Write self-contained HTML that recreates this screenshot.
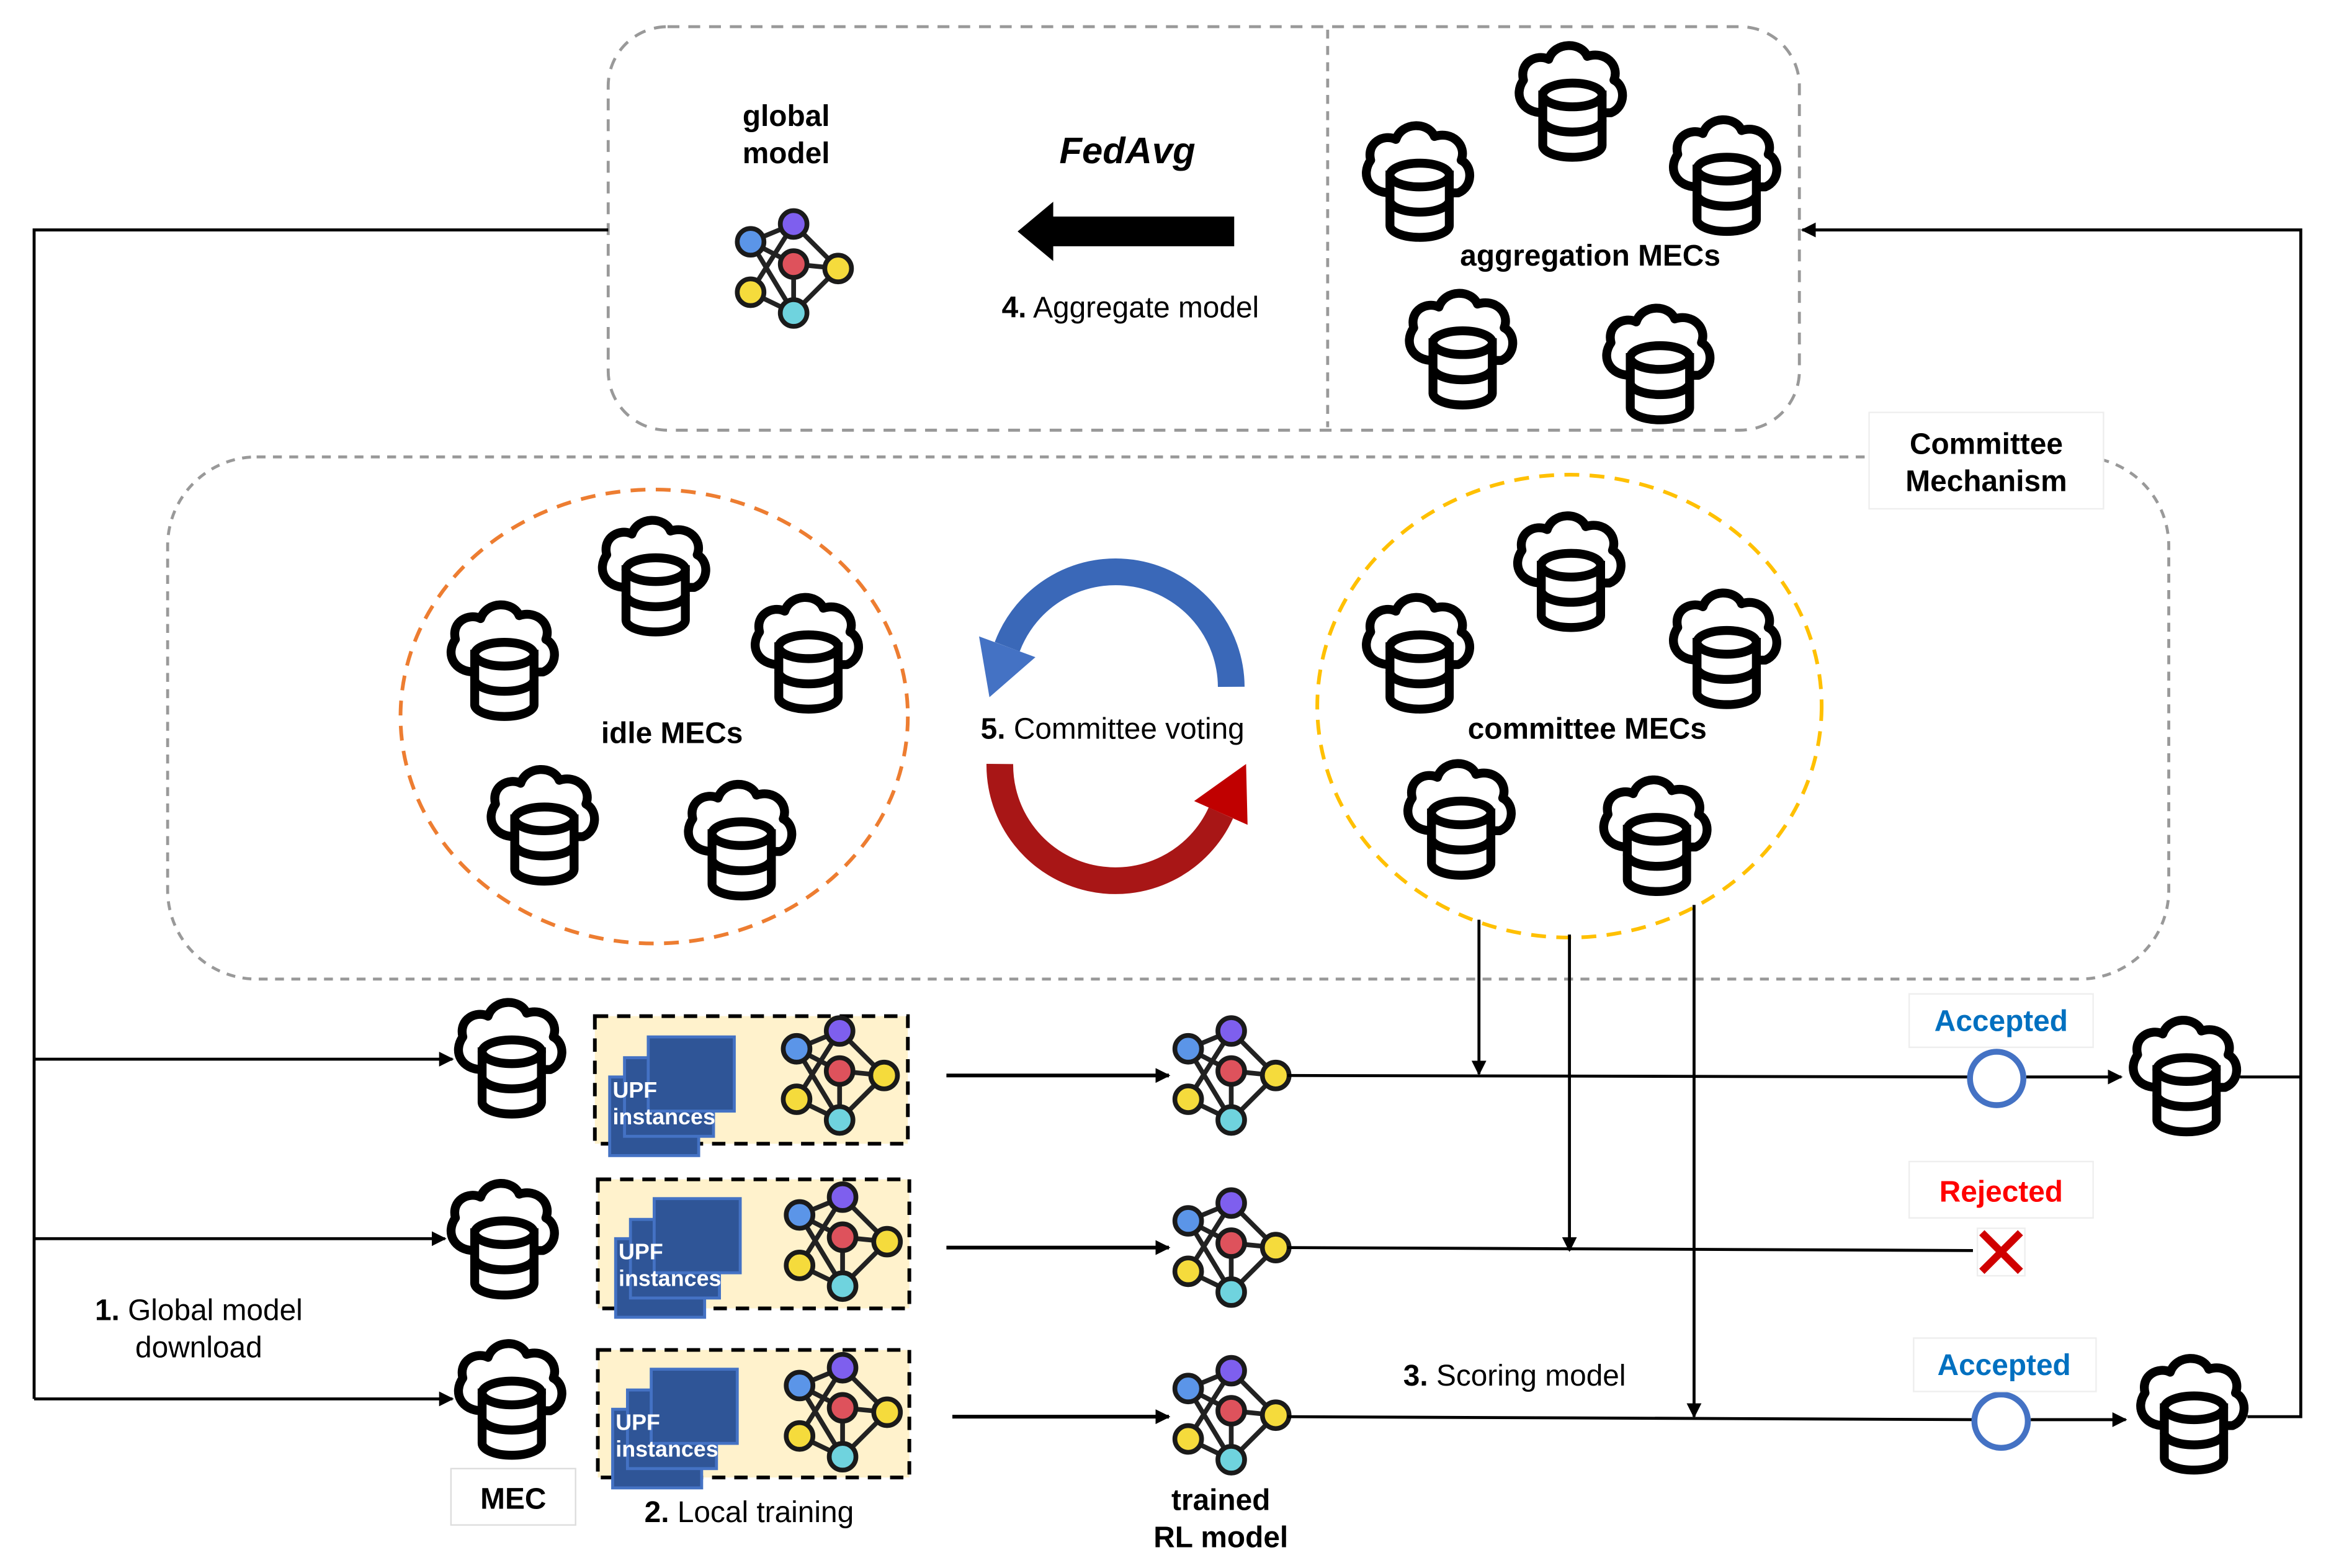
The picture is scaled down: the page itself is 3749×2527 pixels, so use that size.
<!DOCTYPE html>
<html><head><meta charset="utf-8">
<style>
html,body{margin:0;padding:0;background:#fff;}
svg{display:block;}
text{font-family:"Liberation Sans","Noto Sans CJK KR",sans-serif;}
</style></head>
<body>
<svg width="3749" height="2527" viewBox="0 0 1568 1057" preserveAspectRatio="none" xmlns="http://www.w3.org/2000/svg">
<defs>
<marker id="ar" markerWidth="10" markerHeight="10" refX="9" refY="5" orient="auto" markerUnits="userSpaceOnUse">
<path d="M0,0 L10,5 L0,10 Z" fill="#000"/>
</marker>
<g id="cloud">
<path d="M -18 8 C -32 8 -38 -4 -31 -14 C -34 -26 -22 -32 -14 -28 C -10 -40 8 -40 12 -30 C 24 -34 34 -24 30 -14 C 38 -10 38 4 28 8 Z" fill="#fff" stroke="#000" stroke-width="6" stroke-linejoin="round"/>
<path d="M -18 -4 L -18 30 A 20 8 0 0 0 22 30 L 22 -4 Z" fill="#fff" stroke="#000" stroke-width="6"/>
<path d="M -18 13 A 20 8 0 0 0 22 13" fill="none" stroke="#000" stroke-width="6"/>
<ellipse cx="2" cy="-4" rx="20" ry="8" fill="#fff" stroke="#000" stroke-width="6"/>
</g>
<g id="net">
<g stroke="#222" stroke-width="3.2">
<line x1="-29" y1="-15" x2="0" y2="-27"/>
<line x1="-29" y1="-15" x2="0" y2="0"/>
<line x1="-29" y1="-15" x2="0" y2="33"/>
<line x1="0" y1="-27" x2="-29" y2="19"/>
<line x1="0" y1="-27" x2="30" y2="3"/>
<line x1="0" y1="0" x2="30" y2="3"/>
<line x1="0" y1="0" x2="0" y2="33"/>
<line x1="30" y1="3" x2="0" y2="33"/>
<line x1="-29" y1="19" x2="0" y2="33"/>
</g>
<g stroke="#1a1a1a" stroke-width="3.2">
<circle cx="-29" cy="-15" r="9" fill="#5B95E8"/>
<circle cx="0" cy="-27" r="9" fill="#7E5FEE"/>
<circle cx="0" cy="0" r="9" fill="#DE525C"/>
<circle cx="30" cy="3" r="9" fill="#F5DB3C"/>
<circle cx="-29" cy="19" r="9" fill="#F5DB3C"/>
<circle cx="0" cy="33" r="9" fill="#6FD3DE"/>
</g>
</g>
<g id="upf">
<rect x="10" y="41" width="60" height="53" fill="#2F5597" stroke="#4472C4" stroke-width="2"/>
<rect x="20" y="28" width="60" height="53" fill="#2F5597" stroke="#4472C4" stroke-width="2"/>
<rect x="36" y="14" width="58" height="50" fill="#2F5597" stroke="#4472C4" stroke-width="2"/>
<text x="12" y="55" fill="#fff" font-size="15" font-weight="bold">UPF</text>
<text x="12" y="73" fill="#fff" font-size="15" font-weight="bold">instances</text>
</g>
</defs>

<rect x="410" y="18" width="803" height="272" rx="40" fill="none" stroke="#999" stroke-width="2" stroke-dasharray="8,6"/>
<line x1="895" y1="20" x2="895" y2="288" stroke="#999" stroke-width="2" stroke-dasharray="6,5"/>
<text x="530" y="85" font-size="20" font-weight="bold" text-anchor="middle">global</text>
<text x="530" y="110" font-size="20" font-weight="bold" text-anchor="middle">model</text>
<use href="#net" x="535" y="178"/>
<text x="760" y="110" font-size="25" font-weight="bold" font-style="italic" text-anchor="middle">FedAvg</text>
<polygon points="832,146 710,146 710,136 686,156 710,176 710,166 832,166" fill="#000"/>
<text x="762" y="214" font-size="20" text-anchor="middle"><tspan font-weight="bold">4.</tspan> Aggregate model</text>
<use href="#cloud" x="1058" y="68"/>
<use href="#cloud" x="955" y="122"/>
<use href="#cloud" x="1162" y="118"/>
<use href="#cloud" x="984" y="235"/>
<use href="#cloud" x="1117" y="245"/>
<text x="1072" y="179" font-size="20" font-weight="bold" text-anchor="middle">aggregation MECs</text>

<rect x="113" y="308" width="1349" height="352" rx="60" fill="none" stroke="#999" stroke-width="2" stroke-dasharray="6,5"/>
<rect x="1260" y="278" width="158" height="65" fill="#fff" stroke="#eee" stroke-width="1"/>
<text x="1339" y="306" font-size="20" font-weight="bold" text-anchor="middle">Committee</text>
<text x="1339" y="331" font-size="20" font-weight="bold" text-anchor="middle">Mechanism</text>

<ellipse cx="441" cy="483" rx="171" ry="153" fill="none" stroke="#ED7D31" stroke-width="2.5" stroke-dasharray="10,7"/>
<use href="#cloud" x="440" y="388"/>
<use href="#cloud" x="338" y="445"/>
<use href="#cloud" x="543" y="440"/>
<use href="#cloud" x="365" y="556"/>
<use href="#cloud" x="498" y="566"/>
<text x="453" y="501" font-size="20" font-weight="bold" text-anchor="middle">idle MECs</text>

<ellipse cx="1058" cy="476" rx="170" ry="156" fill="none" stroke="#FFC000" stroke-width="2.5" stroke-dasharray="10,7"/>
<use href="#cloud" x="1057" y="385"/>
<use href="#cloud" x="955" y="440"/>
<use href="#cloud" x="1162" y="437"/>
<use href="#cloud" x="983" y="552"/>
<use href="#cloud" x="1115" y="563"/>
<text x="1070" y="498" font-size="20" font-weight="bold" text-anchor="middle">committee MECs</text>

<path d="M 830 463 A 78 78 0 0 0 679 436" fill="none" stroke="#3A68B8" stroke-width="18"/>
<polygon points="667,470 660,429 698,443" fill="#4472C4"/>
<path d="M 674 515 A 78 78 0 0 0 823 548" fill="none" stroke="#A81616" stroke-width="18"/>
<polygon points="841,556 805,540 840,515" fill="#C00000"/>
<text x="750" y="498" font-size="20" text-anchor="middle"><tspan font-weight="bold">5.</tspan> Committee voting</text>

<polyline points="410,155 23,155 23,943" fill="none" stroke="#000" stroke-width="2"/>
<line x1="23" y1="714" x2="305" y2="714" stroke="#000" stroke-width="2" marker-end="url(#ar)"/>
<line x1="23" y1="835" x2="300" y2="835" stroke="#000" stroke-width="2" marker-end="url(#ar)"/>
<line x1="23" y1="943" x2="305" y2="943" stroke="#000" stroke-width="2" marker-end="url(#ar)"/>
<text x="134" y="890" font-size="20" text-anchor="middle"><tspan font-weight="bold">1.</tspan> Global model</text>
<text x="134" y="915" font-size="20" text-anchor="middle">download</text>

<use href="#cloud" x="343" y="713"/>
<use href="#cloud" x="338" y="835"/>
<use href="#cloud" x="343" y="943"/>
<rect x="304" y="990" width="84" height="38" fill="#fff" stroke="#ddd" stroke-width="1"/>
<text x="346" y="1017" font-size="20" font-weight="bold" text-anchor="middle">MEC</text>

<rect x="401" y="685" width="211" height="86" fill="#FFF2CC" stroke="#000" stroke-width="2.5" stroke-dasharray="9,6"/>
<use href="#upf" x="401" y="685"/>
<use href="#net" x="566" y="722"/>
<rect x="403" y="795" width="210" height="87" fill="#FFF2CC" stroke="#000" stroke-width="2.5" stroke-dasharray="9,6"/>
<use href="#upf" x="405" y="794"/>
<use href="#net" x="568" y="834"/>
<rect x="403" y="910" width="210" height="86" fill="#FFF2CC" stroke="#000" stroke-width="2.5" stroke-dasharray="9,6"/>
<use href="#upf" x="403" y="909"/>
<use href="#net" x="568" y="949"/>
<text x="505" y="1026" font-size="20" text-anchor="middle"><tspan font-weight="bold">2.</tspan> Local training</text>

<line x1="638" y1="725" x2="788" y2="725" stroke="#000" stroke-width="2.5" marker-end="url(#ar)"/>
<line x1="638" y1="841" x2="788" y2="841" stroke="#000" stroke-width="2.5" marker-end="url(#ar)"/>
<line x1="642" y1="955" x2="788" y2="955" stroke="#000" stroke-width="2.5" marker-end="url(#ar)"/>

<use href="#net" x="830" y="722"/>
<use href="#net" x="830" y="838"/>
<use href="#net" x="830" y="951"/>
<text x="823" y="1018" font-size="20" font-weight="bold" text-anchor="middle">trained</text>
<text x="823" y="1043" font-size="20" font-weight="bold" text-anchor="middle">RL model</text>

<line x1="868" y1="725" x2="1328" y2="726" stroke="#000" stroke-width="2"/>
<line x1="868" y1="841" x2="1330" y2="843" stroke="#000" stroke-width="2"/>
<line x1="868" y1="955" x2="1331" y2="957" stroke="#000" stroke-width="2"/>
<line x1="997" y1="620" x2="997" y2="724" stroke="#000" stroke-width="2" marker-end="url(#ar)"/>
<line x1="1058" y1="630" x2="1058" y2="843" stroke="#000" stroke-width="2" marker-end="url(#ar)"/>
<line x1="1142" y1="610" x2="1142" y2="955" stroke="#000" stroke-width="2" marker-end="url(#ar)"/>
<text x="1021" y="934" font-size="20" text-anchor="middle"><tspan font-weight="bold">3.</tspan> Scoring model</text>

<circle cx="1346" cy="727" r="18" fill="#fff" stroke="#4472C4" stroke-width="4"/>
<line x1="1366" y1="726" x2="1430" y2="726" stroke="#000" stroke-width="2" marker-end="url(#ar)"/>
<use href="#cloud" x="1472" y="725"/>
<circle cx="1349" cy="958" r="18" fill="#fff" stroke="#4472C4" stroke-width="4"/>
<line x1="1369" y1="957" x2="1433" y2="957" stroke="#000" stroke-width="2" marker-end="url(#ar)"/>
<use href="#cloud" x="1477" y="953"/>
<rect x="1333" y="828" width="32" height="32" fill="#fff" stroke="#eee" stroke-width="1"/>
<path d="M1336,831 L1362,857 M1362,831 L1336,857" stroke="#D00000" stroke-width="5"/>

<polyline points="1510,726 1551,726" fill="none" stroke="#000" stroke-width="2"/>
<polyline points="1515,955 1551,955 1551,155 1215,155" fill="none" stroke="#000" stroke-width="2" marker-end="url(#ar)"/>

<rect x="1287" y="670" width="124" height="36" fill="#fff" stroke="#eee" stroke-width="1"/>
<text x="1349" y="695" font-size="20" font-weight="bold" fill="#0070C0" text-anchor="middle">Accepted</text>
<rect x="1287" y="783" width="124" height="38" fill="#fff" stroke="#eee" stroke-width="1"/>
<text x="1349" y="810" font-size="20" font-weight="bold" fill="#FF0000" text-anchor="middle">Rejected</text>
<rect x="1290" y="902" width="123" height="36" fill="#fff" stroke="#eee" stroke-width="1"/>
<text x="1351" y="927" font-size="20" font-weight="bold" fill="#0070C0" text-anchor="middle">Accepted</text>
</svg>
</body></html>
